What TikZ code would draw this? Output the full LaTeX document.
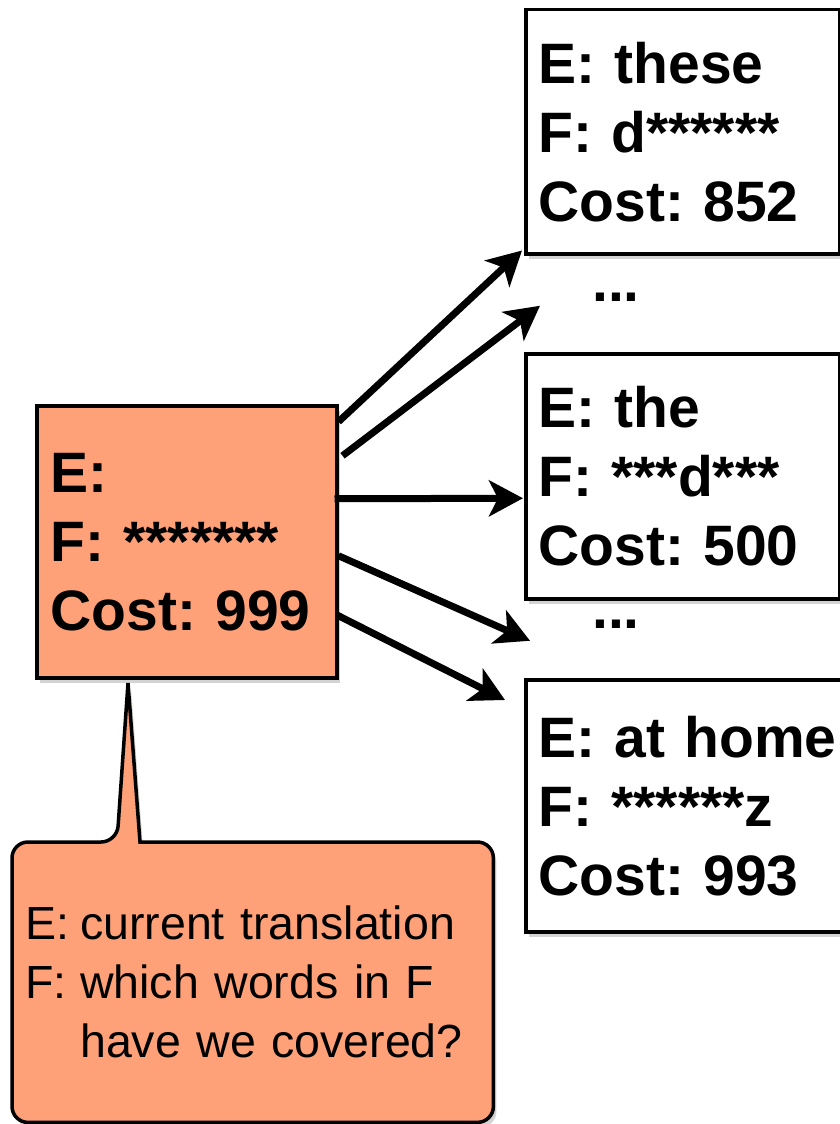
\documentclass[tikz,border=0pt]{standalone}
\usepackage{fontspec}
\setmainfont{Liberation Sans}
\frenchspacing
\usetikzlibrary{positioning,arrows.meta,shadows,backgrounds,calc}
\definecolor{salmon}{RGB}{254,160,120}
\tikzset{
  arrow/.style={-{Stealth[length=34pt,width=36pt,inset=9pt]}, line width=7pt},
  boxshadow/.style={drop shadow={shadow xshift=3pt, shadow yshift=-5pt, opacity=0.35}},
  hyp/.style={
    draw,
    line width=3.5pt,
    fill=white,
    rectangle,
    anchor=north west,
    align=left,
    inner xsep=13pt,
    text width=288pt,
    minimum width=314pt,
    font=\fontsize{57}{69}\selectfont\bfseries,
    boxshadow
  },
  state/.style={
    hyp,
    fill=salmon,
    inner xsep=14pt,
    text width=272pt,
    minimum width=300pt,
    minimum height=272pt
  },
  dots/.style={anchor=base, font=\fontsize{57}{69}\selectfont\bfseries},
  notetext/.style={
    anchor=north west,
    align=left,
    inner xsep=13pt,
    text width=455pt,
    minimum width=481pt,
    minimum height=280pt,
    font=\fontsize{46.5}{59}\selectfont
  },
  callout/.style={draw, line width=3.5pt, fill=salmon, boxshadow}
}

\begin{document}
\begin{tikzpicture}[x=1pt, y=-1pt]
\useasboundingbox (0,0) rectangle (840,1124);

% Current hypothesis
\node[state] (cur) at (35,404) {E:\\F: *******\\Cost: 999};

% Expanded hypotheses
\node[hyp, minimum height=244pt] (these) at (524,8) {E: these\\F: d******\\Cost: 852};
\node[hyp, minimum height=245pt] (the) at (524,352) {E: the\\F: ***d***\\Cost: 500};
\node[hyp, minimum height=252pt, text width=300pt] (home) at (524,678) {E: at home\\F: ******z\\Cost: 993};

\node[dots] (dotsa) at (616,301) {...};
\node[dots] (dotsb) at (616,628) {...};

% Explanation
\node[notetext] (note) at (12,842) {%
  \makebox[55pt][l]{E:}current translation\\
  \makebox[55pt][l]{F:}which words in F\\
  \hspace*{55pt}have we covered?};
\coordinate (tip) at (128,683);

\begin{scope}[on background layer]
\draw[callout] ($(note.north east)!.5!(note.south east)$) [rounded corners=16pt]
  -- (note.south east) -- (note.south west) -- (note.north west)
  -- ($(note.north west)+(105,0)$) [sharp corners]
  -- (tip) -- ($(note.north west)+(128,0)$) [rounded corners=16pt]
  -- (note.north east) -- cycle;
\end{scope}

% Expansions
\draw[arrow] ($(cur.east)+(0,-120)$) -- ($(these.south west)+(-2,-5)$);
\draw[arrow] ($(cur.east)+(4,-86)$) -- ($(dotsa)+(-76,9)$);
\draw[arrow] ($(cur.east)+(-4,-43)$) -- ($(the.west)+(-1,22)$);
\draw[arrow] ($(cur.east)+(0,14)$) -- ($(dotsb)+(-86,17)$);
\draw[arrow] ($(cur.east)+(-2,73)$) -- ($(home.north west)+(-19,22)$);

\end{tikzpicture}
\end{document}
